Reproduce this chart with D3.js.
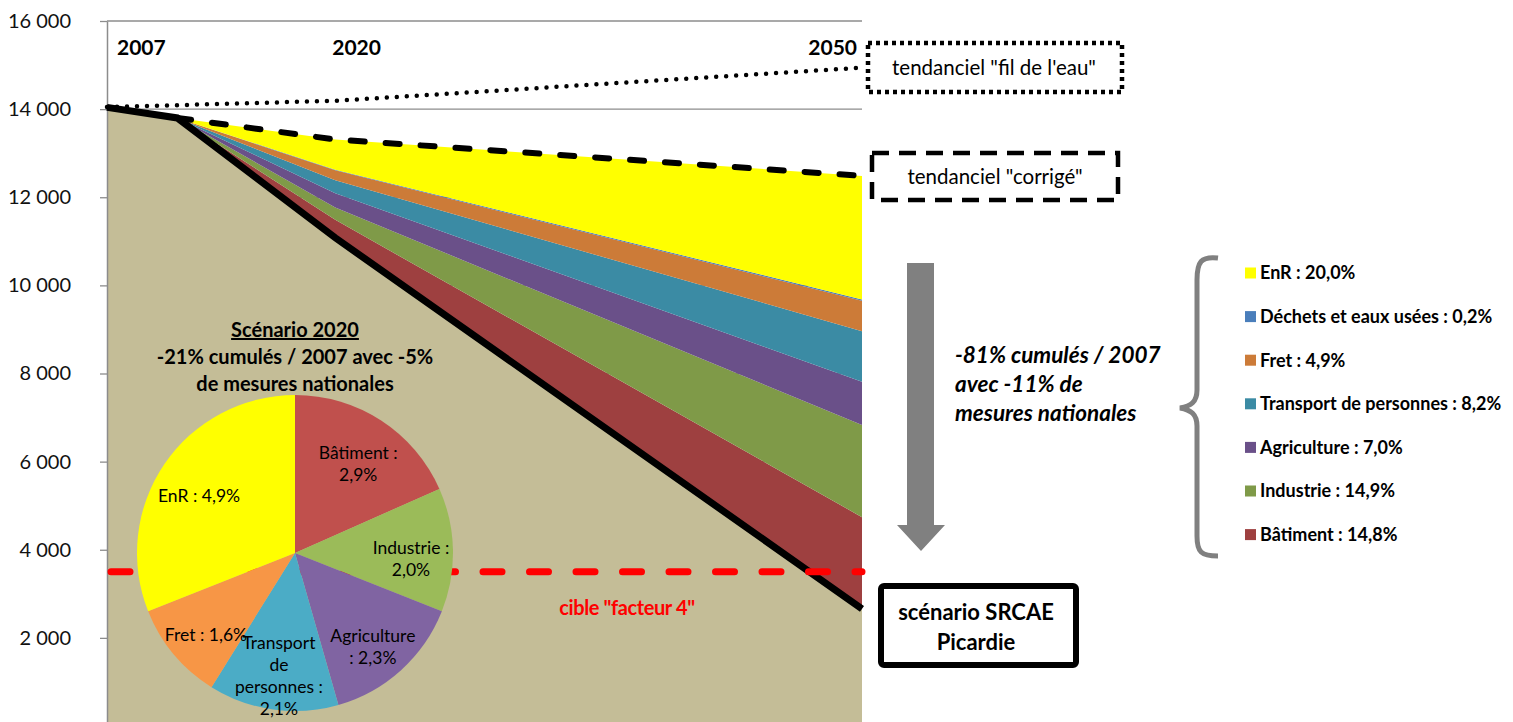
<!DOCTYPE html>
<html>
<head>
<meta charset="utf-8">
<script src="https://cdn.jsdelivr.net/npm/d3@7"></script>
<style>
  body { margin: 0; background: #fff; }
  svg { display: block; font-family: Lato, "Open Sans", sans-serif; }
</style>
</head>
<body>
<div id="chart"></div>
<script>
// data (kt eq. CO2)
const years = [2007, 2011, 2020, 2050];
const scenario = [14040, 13800, 11080, 2660];
const batiment = [0, 0, 407, 2080];
const industrie = [0, 0, 281, 2090];
const agriculture = [0, 0, 323, 980];
const transport = [0, 0, 295, 1150];
const fret = [0, 0, 224, 690];
const dechets = [0, 0, 14, 30];
const enr = [0, 0, 687, 2805];
const filDeLEau = [14050, 14090, 14190, 14940];
const corrige = [null, 13800, 13311, 12485];
const cible = 3500;

const yTicks = [2000, 4000, 6000, 8000, 10000, 12000, 14000, 16000];
const yearLabels = [2007, 2020, 2050];

const legendLabels = ["EnR : 20,0%", "Déchets et eaux usées : 0,2%", "Fret : 4,9%",
  "Transport de personnes : 8,2%", "Agriculture : 7,0%", "Industrie : 14,9%", "Bâtiment : 14,8%"];
const legendColors = ["#FFFF00", "#4A7EBB", "#CC7B38", "#3B8BA4", "#6A5089", "#7F9A48", "#9E4040"];

const pieValues = [2.9, 2.0, 2.3, 2.1, 1.6, 4.9];
const pieLabels = [["Bâtiment :", "2,9%"], ["Industrie :", "2,0%"], ["Agriculture", ": 2,3%"],
  ["Transport", "de", "personnes :", "2,1%"], ["Fret : 1,6%"], ["EnR : 4,9%"]];
const pieColors = ["#C0504D", "#9BBB59", "#8064A2", "#4BACC6", "#F79646", "#FFFF00"];

// layout
const W = 1513, H = 722;
const plot = { left: 107, right: 862, top: 21, bottom: 726 };

const x = d3.scaleLinear().domain([2007, 2050]).range([plot.left, plot.right]);
const y = d3.scaleLinear().domain([0, 16000]).range([plot.bottom, plot.top]);

const svg = d3.select("#chart").append("svg")
  .attr("width", W)
  .attr("height", H);

// gridlines
svg.selectAll("line.grid")
  .data(yTicks)
  .join("line")
  .attr("class", "grid")
  .attr("x1", plot.left).attr("x2", plot.right)
  .attr("y1", d => y(d)).attr("y2", d => y(d))
  .attr("stroke", "#8c8c8c")
  .attr("stroke-width", 1.3);

// stacked areas
const keys = ["scenario", "batiment", "industrie", "agriculture", "transport", "fret", "dechets", "enr"];
const colors = ["#C4BD97", "#9E4040", "#7F9A48", "#6A5089", "#3B8BA4", "#CC7B38", "#4A7EBB", "#FFFF00"];
const series = { scenario, batiment, industrie, agriculture, transport, fret, dechets, enr };
const table = years.map((yr, i) => {
  const row = { year: yr };
  keys.forEach(k => row[k] = series[k][i]);
  return row;
});
const stacked = d3.stack().keys(keys)(table);

const area = d3.area()
  .x(d => x(d.data.year))
  .y0(d => y(d[0]))
  .y1(d => y(d[1]));

svg.selectAll("path.layer")
  .data(stacked)
  .join("path")
  .attr("class", "layer")
  .attr("fill", (d, i) => colors[i])
  .attr("d", area);

// y axis
const fr = d3.formatLocale({ decimal: ",", thousands: " ", grouping: [3], currency: ["", ""] });
const yAxis = svg.append("g")
  .attr("transform", `translate(${plot.left},0)`)
  .call(d3.axisLeft(y).tickValues(yTicks).tickSize(7).tickSizeOuter(0).tickPadding(29)
    .tickFormat(fr.format(",")));
yAxis.select(".domain").attr("stroke", "#8c8c8c").attr("stroke-width", 1.5);
yAxis.selectAll(".tick line").attr("stroke", "#8c8c8c").attr("stroke-width", 1.3);
yAxis.selectAll(".tick text")
  .style("font-size", "20px")
  .style("font-family", "Lato, sans-serif")
  .attr("fill", "#111");

// lines
const line = d3.line()
  .defined(d => d[1] != null)
  .x(d => x(d[0]))
  .y(d => y(d[1]));

svg.append("path")
  .datum(years.map((yr, i) => [yr, filDeLEau[i]]))
  .attr("fill", "none")
  .attr("stroke", "#000")
  .attr("stroke-width", 4.5)
  .attr("stroke-linecap", "round")
  .attr("stroke-dasharray", "0,10")
  .attr("d", line);

svg.append("path")
  .datum(years.map((yr, i) => [yr, corrige[i]]))
  .attr("fill", "none")
  .attr("stroke", "#000")
  .attr("stroke-width", 6)
  .attr("stroke-linecap", "round")
  .attr("stroke-dasharray", "14,21")
  .attr("d", line);

svg.append("path")
  .datum(years.map((yr, i) => [yr, scenario[i]]))
  .attr("fill", "none")
  .attr("stroke", "#000")
  .attr("stroke-width", 7)
  .attr("d", line);

// cible facteur 4
svg.append("line")
  .attr("x1", plot.left + 4).attr("x2", plot.right)
  .attr("y1", y(cible)).attr("y2", y(cible))
  .attr("stroke", "#FF0000")
  .attr("stroke-width", 7)
  .attr("stroke-linecap", "round")
  .attr("stroke-dasharray", "19,27.5");

svg.append("text")
  .attr("x", 627).attr("y", 615)
  .attr("text-anchor", "middle")
  .attr("fill", "#FF0000")
  .style("font-size", "20px")
  .style("font-weight", "bold")
  .style("letter-spacing", "-0.4px")
  .text("cible \"facteur 4\"");

// year labels
svg.selectAll("text.year")
  .data(yearLabels)
  .join("text")
  .attr("class", "year")
  .attr("x", (d, i) => i === 0 ? x(d) + 10 : i === yearLabels.length - 1 ? x(d) - 5 : x(d) - 3)
  .attr("y", 55)
  .attr("text-anchor", (d, i) => i === yearLabels.length - 1 ? "end" : "start")
  .style("font-size", "21px")
  .style("font-weight", "bold")
  .text(d => d);

// boxes on the right
svg.append("rect")
  .attr("x", 868).attr("y", 43).attr("width", 254).attr("height", 49)
  .attr("fill", "#fff").attr("stroke", "#000").attr("stroke-width", 4.5)
  .attr("stroke-dasharray", "4,4");
svg.append("text")
  .attr("x", 994).attr("y", 75).attr("text-anchor", "middle")
  .style("font-size", "20.5px")
  .text("tendanciel \"fil de l'eau\"");

svg.append("rect")
  .attr("x", 872).attr("y", 153).attr("width", 246).attr("height", 47)
  .attr("fill", "#fff").attr("stroke", "#000").attr("stroke-width", 4.5)
  .attr("stroke-dasharray", "17,10");
svg.append("text")
  .attr("x", 995).attr("y", 184).attr("text-anchor", "middle")
  .style("font-size", "20.5px")
  .text("tendanciel \"corrigé\"");

svg.append("rect")
  .attr("x", 881).attr("y", 586).attr("width", 195).attr("height", 79)
  .attr("rx", 3)
  .attr("fill", "#fff").attr("stroke", "#000").attr("stroke-width", 6);
svg.append("text")
  .attr("x", 976).attr("y", 620).attr("text-anchor", "middle")
  .style("font-size", "22px").style("font-weight", "bold")
  .text("scénario SRCAE");
svg.append("text")
  .attr("x", 976).attr("y", 650).attr("text-anchor", "middle")
  .style("font-size", "22px").style("font-weight", "bold")
  .text("Picardie");

// grey arrow
svg.append("path")
  .attr("d", "M907,263 L934,263 L934,525 L945,525 L921,551 L897,525 L907,525 Z")
  .attr("fill", "#808080");

const note = ["-81% cumulés / 2007", "avec -11% de", "mesures nationales"];
svg.selectAll("text.note")
  .data(note)
  .join("text")
  .attr("class", "note")
  .attr("x", 955)
  .attr("y", (d, i) => 363 + i * 29)
  .style("font-size", "22.5px")
  .style("font-weight", "bold")
  .style("font-style", "italic")
  .text(d => d);

// brace
svg.append("path")
  .attr("d", "M1218,258 C1201,256 1197,262 1197,280 L1197,390 C1197,402 1191,406 1180,408 C1191,410 1197,414 1197,426 L1197,536 C1197,552 1201,556 1218,556")
  .attr("fill", "none")
  .attr("stroke", "#808080")
  .attr("stroke-width", 5);

// legend
const legend = svg.append("g").attr("transform", "translate(1245,0)");
legend.selectAll("rect")
  .data(legendLabels)
  .join("rect")
  .attr("x", 0)
  .attr("y", (d, i) => 273 + i * 43.6 - 5.5)
  .attr("width", 11).attr("height", 11)
  .attr("fill", (d, i) => legendColors[i]);
legend.selectAll("text")
  .data(legendLabels)
  .join("text")
  .attr("x", 15)
  .attr("y", (d, i) => 273 + i * 43.6)
  .attr("dy", "0.35em")
  .style("font-size", "18px")
  .style("font-weight", "bold")
  .text(d => d);

// pie "Scénario 2020"
const cx = 295, cy = 553, r = 158;
const title = ["Scénario 2020", "-21% cumulés / 2007 avec -5%", "de mesures nationales"];
svg.selectAll("text.ptitle")
  .data(title)
  .join("text")
  .attr("class", "ptitle")
  .attr("x", cx)
  .attr("y", (d, i) => 337 + i * 27)
  .attr("text-anchor", "middle")
  .style("font-size", "20px")
  .style("font-weight", "bold")
  .style("text-decoration", (d, i) => i === 0 ? "underline" : null)
  .text(d => d);

const pie = d3.pie().sort(null).value(d => d);
const arc = d3.arc().innerRadius(0).outerRadius(r);
const labelArc = d3.arc().innerRadius(116).outerRadius(116);
const pieG = svg.append("g").attr("transform", `translate(${cx},${cy})`);
const slices = pie(pieValues);

pieG.selectAll("path")
  .data(slices)
  .join("path")
  .attr("fill", (d, i) => pieColors[i])
  .attr("d", arc);

pieG.selectAll("text")
  .data(slices)
  .join("text")
  .attr("transform", d => {
    const [lx, ly] = labelArc.centroid(d);
    return `translate(${lx},${ly + 8})`;
  })
  .attr("text-anchor", "middle")
  .style("font-size", "17.5px")
  .each(function(d, i) {
    const lines = pieLabels[i];
    const t = d3.select(this);
    lines.forEach((s, j) => {
      t.append("tspan")
        .attr("x", 0)
        .attr("y", (j - (lines.length - 1) / 2) * 22)
        .attr("dy", "0.35em")
        .text(s);
    });
  });
</script>
</body>
</html>
